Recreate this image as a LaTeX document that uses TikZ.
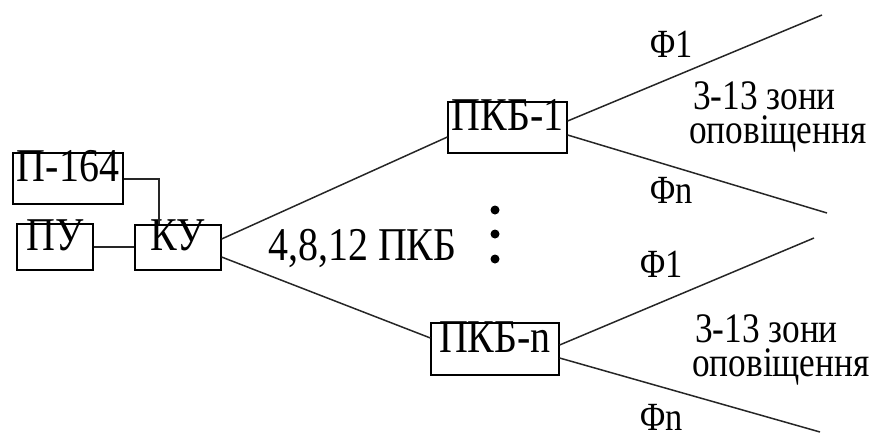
\documentclass[tikz,border=0pt]{standalone}
\usepackage{fontspec}
\setmainfont{Liberation Serif}
\newfontfamily\tallA[FakeStretch=0.85]{Liberation Serif}
\newfontfamily\tallB[FakeStretch=0.84]{Liberation Serif}
\newfontfamily\tallC[FakeStretch=0.86]{Liberation Serif}
\begin{document}
\begin{tikzpicture}[x=1pt,y=-1pt,
  blk/.style={draw, line width=1.2pt, inner sep=0pt, font=\tallA\fontsize{47}{50}\selectfont, text height=0.66em, text depth=0pt},
  wire/.style={line width=1.5pt, draw=black!85},
  lbl/.style={inner sep=0pt, anchor=base west, font=\tallA\fontsize{47}{50}\selectfont},
  phi/.style={inner sep=0pt, anchor=base west, font=\tallC\fontsize{40}{40}\selectfont},
  zone/.style={inner sep=0pt, anchor=base west, font=\tallB\fontsize{42}{42}\selectfont},
  zoneA/.style={zone, text height=0.68em, text depth=0pt},
  zoneB/.style={zone, text height=0.6em, text depth=0.2em}]
\useasboundingbox (0,0) rectangle (875,437);
% blocks
\node[blk, minimum width=110pt, minimum height=51pt] (p164) at (68,178.5) {П-164};
\node[blk, minimum width=76pt, minimum height=46pt] (pu) at (55,247) {ПУ};
\node[blk, minimum width=86pt, minimum height=45pt] (ku) at (178,247.5) {КУ};
\node[blk, minimum width=119pt, minimum height=51pt] (pkb1) at (507.5,127.5) {ПКБ-1};
\node[blk, minimum width=128pt, minimum height=52pt] (pkbn) at (495,349) {ПКБ-n};
% free ends
\coordinate (e1) at (822,15);
\coordinate (e2) at (827,213);
\coordinate (e3) at (814,238);
\coordinate (e4) at (820,432);
% connectors
\draw[wire] (p164.east |- 0,179) -| (ku.north -| 159,0);
\draw[wire] (pu.east) -- (ku.west |- pu.east);
\draw[wire] (ku.east |- 0,239) -- (pkb1.west |- 0,137);
\draw[wire] (ku.east |- 0,257) -- (pkbn.west |- 0,338);
\draw[wire] (pkb1.east |- 0,121) -- (e1);
\draw[wire] (pkb1.east |- 0,135) -- (e2);
\draw[wire] (pkbn.east |- 0,345) -- (e3);
\draw[wire] (pkbn.east |- 0,358) -- (e4);
% labels
\node[lbl] (cnt) at (268,260) {4,8,12 ПКБ};
\node[phi] (f1a) at (650,57) {Φ1};
\node[phi] (fna) at (650,203) {Φn};
\node[phi] (f1b) at (640,277) {Φ1};
\node[phi] (fnb) at (640,430) {Φn};
\node[zoneA] (za1) at (693,109) {3-13 зони};
\node[zoneB] (za2) at (689,143) {оповіщення};
\node[zoneA] (zb1) at (695,342) {3-13 зони};
\node[zoneB] (zb2) at (692,376) {оповіщення};
% dots
\fill (495,210) circle (4.5pt);
\fill (495,234) circle (4.5pt);
\fill (495,259) circle (4.5pt);
\end{tikzpicture}
\end{document}
